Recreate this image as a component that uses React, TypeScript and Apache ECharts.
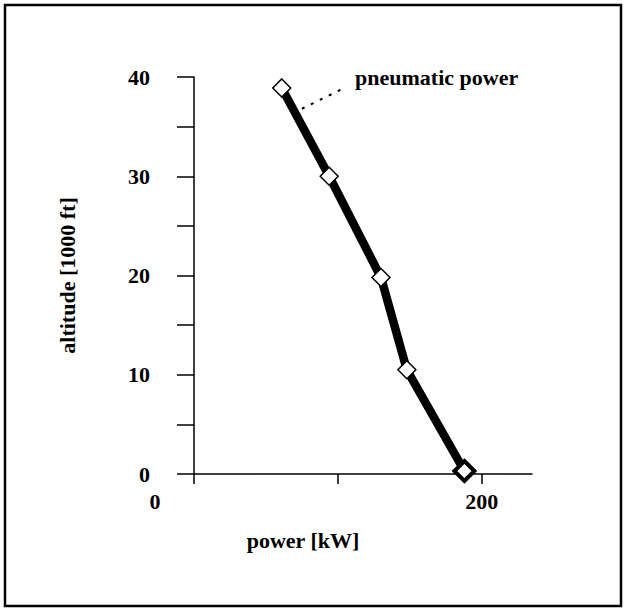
import React, { useEffect, useRef } from "react";
import * as echarts from "echarts";

const powerKW = [61, 94, 130, 148, 188];
const altitude = [38.9, 30.0, 19.8, 10.5, 0.3];
const xTicks = [0, 100, 200];
const xLabels = [0, 200];
const yTicks = [0, 5, 10, 15, 20, 25, 30, 35, 40];
const yLabels = [0, 10, 20, 30, 40];
const leader = [[75, 36.8], [106, 39.0]];
const annotation = { text: "pneumatic power", at: [108.5, 40.0] };

const FONT = "Liberation Serif";

export default function App() {
  const ref = useRef<HTMLDivElement>(null);
  useEffect(() => {
    if (!ref.current) return;
    const chart = echarts.init(ref.current, undefined, { renderer: "svg" });
    const data = powerKW.map((x, i) => {
      const last = i === powerKW.length - 1;
      return last
        ? { value: [x, altitude[i]], symbolSize: 20, itemStyle: { borderWidth: 4 } }
        : { value: [x, altitude[i]] };
    });
    chart.setOption({
      animation: false,
      backgroundColor: "#ffffff",
      textStyle: { fontFamily: FONT, fontWeight: "bold", color: "#000" },
      graphic: [
        {
          type: "rect",
          shape: { x: 5, y: 5, width: 616, height: 601 },
          style: { fill: "none", stroke: "#000", lineWidth: 2.5 },
          silent: true,
        },
      ],
      grid: { left: 194, right: 94, top: 77, bottom: 136, containLabel: false },
      xAxis: {
        type: "value",
        min: 0,
        max: 235,
        interval: 100,
        splitLine: { show: false },
        axisLine: { lineStyle: { color: "#000", width: 1.5 } },
        axisTick: { show: true, length: 10, lineStyle: { color: "#000", width: 1.5 }, customValues: xTicks },
        axisLabel: {
          customValues: xLabels,
          margin: 16,
          fontFamily: FONT,
          fontWeight: "bold",
          fontSize: 22,
          color: "#000",
          formatter: (v: number) => (v === 0 ? "{z|0}" : String(v)),
          rich: {
            z: { fontFamily: FONT, fontWeight: "bold", fontSize: 22, color: "#000", padding: [0, 78, 0, 0] },
          },
        },
        name: "power [kW]",
        nameLocation: "middle",
        nameGap: 55,
        nameTextStyle: {
          fontFamily: FONT,
          fontWeight: "bold",
          fontSize: 22,
          color: "#000",
          padding: [0, 120, 0, 0],
        },
      },
      yAxis: {
        type: "value",
        min: 0,
        max: 40,
        interval: 5,
        splitLine: { show: false },
        axisLine: { lineStyle: { color: "#000", width: 1.5 } },
        axisTick: { show: true, length: 17, lineStyle: { color: "#000", width: 1.5 }, customValues: yTicks },
        axisLabel: {
          customValues: yLabels,
          margin: 44,
          fontFamily: FONT,
          fontWeight: "bold",
          fontSize: 22,
          color: "#000",
        },
        name: "altitude [1000 ft]",
        nameLocation: "middle",
        nameGap: 116,
        nameRotate: 90,
        nameTextStyle: { fontFamily: FONT, fontWeight: "bold", fontSize: 22, color: "#000" },
      },
      series: [
        {
          type: "line",
          data,
          symbol: "diamond",
          symbolSize: 18,
          lineStyle: { color: "#000", width: 8.5 },
          itemStyle: { color: "#fff", borderColor: "#000", borderWidth: 1.5 },
          z: 3,
          markLine: {
            silent: true,
            symbol: ["none", "none"],
            label: { show: false },
            lineStyle: { color: "#000", width: 2, type: [3, 7] },
            data: [[{ coord: leader[0] }, { coord: leader[1] }]],
          },
          markPoint: {
            silent: true,
            symbol: "circle",
            symbolSize: 0,
            label: {
              show: true,
              position: "right",
              distance: 5,
              formatter: annotation.text,
              fontFamily: FONT,
              fontWeight: "bold",
              fontSize: 22,
              color: "#000",
            },
            data: [{ coord: annotation.at }],
          },
        },
      ],
    });
    return () => chart.dispose();
  }, []);
  return <div ref={ref} style={{ position: "fixed", left: 0, top: 0, width: 626, height: 610 }} />;
}
